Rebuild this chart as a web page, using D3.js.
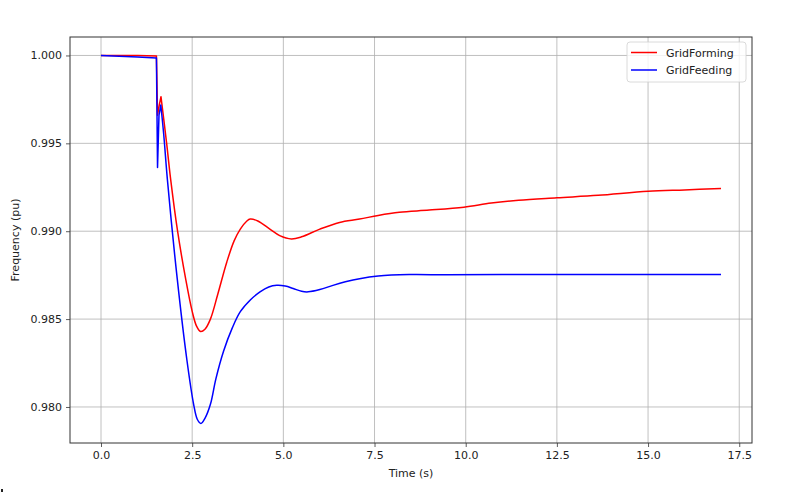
<!DOCTYPE html>
<html><head><meta charset="utf-8">
<script src="https://cdn.jsdelivr.net/npm/d3@7/dist/d3.min.js"></script>
<style>body{margin:0;background:#fff}svg{display:block}text{font-family:"DejaVu Sans",sans-serif}</style>
</head><body>
<script>
const formingTime = [0, 1.0, 1.52, 1.55, 1.6, 1.645, 1.8, 1.91, 2.1, 2.32, 2.5, 2.62, 2.73, 2.85, 3.0, 3.2, 3.45, 3.65, 3.82, 4.0, 4.09, 4.3, 4.63, 4.9, 5.22, 5.5, 6.0, 6.54, 7.09, 7.6, 8.18, 9.0, 9.95, 10.7, 11.45, 12.5, 13.63, 15.0, 16.0, 17.0];
const formingFreq = [1.0000, 1.0000, 0.99997, 0.9966, 0.9972, 0.99765, 0.9950, 0.99295, 0.9900, 0.9873, 0.98544, 0.98460, 0.98429, 0.98442, 0.98500, 0.9864, 0.98825, 0.98945, 0.99012, 0.99058, 0.99069, 0.99058, 0.99012, 0.98975, 0.98956, 0.98968, 0.99012, 0.9905, 0.99069, 0.9909, 0.99108, 0.9912, 0.99137, 0.9916, 0.99176, 0.9919, 0.99204, 0.99227, 0.99235, 0.99243];
const feedingTime = [0, 1.0, 1.52, 1.55, 1.59, 1.64, 1.72, 1.82, 2.09, 2.36, 2.54, 2.64, 2.74, 2.85, 3.0, 3.15, 3.36, 3.6, 3.82, 4.1, 4.36, 4.6, 4.82, 5.05, 5.27, 5.5, 5.68, 6.0, 6.36, 6.7, 7.09, 7.6, 8.45, 9.5, 11, 13, 15, 17];
const feedingFreq = [1.0000, 0.99991, 0.99985, 0.99362, 0.9966, 0.99718, 0.9955, 0.99295, 0.9873, 0.9826, 0.98015, 0.9793, 0.97906, 0.97935, 0.98015, 0.9816, 0.98317, 0.9845, 0.98542, 0.9861, 0.98655, 0.98683, 0.98692, 0.98688, 0.98674, 0.98658, 0.98655, 0.98668, 0.98692, 0.98712, 0.9873, 0.98745, 0.98753, 0.98752, 0.98754, 0.98754, 0.98754, 0.98754];
const seriesNames = ["GridForming", "GridFeeding"];
const seriesColors = ["#ff0000", "#0000ff"];
const xTicks = [0, 2.5, 5, 7.5, 10, 12.5, 15, 17.5];
const yTicks = [0.980, 0.985, 0.990, 0.995, 1.000];

const W = 787, H = 503;
const m = {left: 70, right: 752, top: 37, bottom: 443};
const svg = d3.select("body").append("svg").attr("width", W).attr("height", H);

const x = d3.scaleLinear().domain([-0.85, 17.85]).range([m.left, m.right]);
const y = d3.scaleLinear().domain([0.97795, 1.00105]).range([m.bottom, m.top]);

// grid
svg.append("g").selectAll("line").data(xTicks).join("line")
  .attr("x1", d => x(d)).attr("x2", d => x(d)).attr("y1", m.top).attr("y2", m.bottom)
  .attr("stroke", "#b0b0b0").attr("stroke-width", 0.8);
svg.append("g").selectAll("line").data(yTicks).join("line")
  .attr("y1", d => y(d)).attr("y2", d => y(d)).attr("x1", m.left).attr("x2", m.right)
  .attr("stroke", "#b0b0b0").attr("stroke-width", 0.8);

const sharp = d3.line().x(d => x(d[0])).y(d => y(d[1]));
const smooth = d3.line().x(d => x(d[0])).y(d => y(d[1])).curve(d3.curveCatmullRom.alpha(0.5));
const series = [d3.zip(formingTime, formingFreq), d3.zip(feedingTime, feedingFreq)];
const splitAt = 5; // index of the post-fault peak
series.forEach((s, i) => {
  const d = sharp(s.slice(0, splitAt + 1)) + smooth(s.slice(splitAt)).replace(/^M/, "L");
  svg.append("path").attr("d", d).attr("fill", "none")
    .attr("stroke", seriesColors[i]).attr("stroke-width", 1.5).attr("stroke-linejoin", "round");
});

// axes
const xAxis = svg.append("g").attr("transform", `translate(0,${m.bottom})`)
  .call(d3.axisBottom(x).tickValues(xTicks).tickFormat(d3.format(".1f")).tickSize(4).tickPadding(4));
const yAxis = svg.append("g").attr("transform", `translate(${m.left},0)`)
  .call(d3.axisLeft(y).tickValues(yTicks).tickFormat(d3.format(".3f")).tickSize(4).tickPadding(4));
[xAxis, yAxis].forEach(a => {
  a.select(".domain").remove();
  a.selectAll("text").attr("font-size", 11).attr("fill", "#222").attr("font-family", "DejaVu Sans");
  a.selectAll("line").attr("stroke", "#333").attr("stroke-width", 0.8);
});
svg.append("rect").attr("x", m.left).attr("y", m.top).attr("width", m.right - m.left).attr("height", m.bottom - m.top)
  .attr("fill", "none").attr("stroke", "#333").attr("stroke-width", 1);

svg.append("text").attr("x", (m.left + m.right) / 2).attr("y", 477).attr("text-anchor", "middle")
  .attr("font-size", 11).attr("fill", "#222").text("Time (s)");
svg.append("text").attr("transform", `translate(19,${(m.top + m.bottom) / 2}) rotate(-90)`).attr("text-anchor", "middle")
  .attr("font-size", 11).attr("fill", "#222").text("Frequency (pu)");

// legend
const lg = svg.append("g");
lg.append("rect").attr("x", 627).attr("y", 42).attr("width", 119).attr("height", 40).attr("rx", 3)
  .attr("fill", "#fff").attr("fill-opacity", 0.8).attr("stroke", "#d0d0d0").attr("stroke-width", 0.8);
seriesNames.forEach((n, i) => {
  const yy = 52.5 + i * 17.5;
  lg.append("line").attr("x1", 631).attr("x2", 657).attr("y1", yy).attr("y2", yy)
    .attr("stroke", seriesColors[i]).attr("stroke-width", 1.5);
  lg.append("text").attr("x", 666).attr("y", yy + 4).attr("font-size", 11).attr("fill", "#222").text(n);
});

svg.append("rect").attr("x", 1).attr("y", 489).attr("width", 2).attr("height", 3).attr("fill", "#222");
</script>
</body></html>
